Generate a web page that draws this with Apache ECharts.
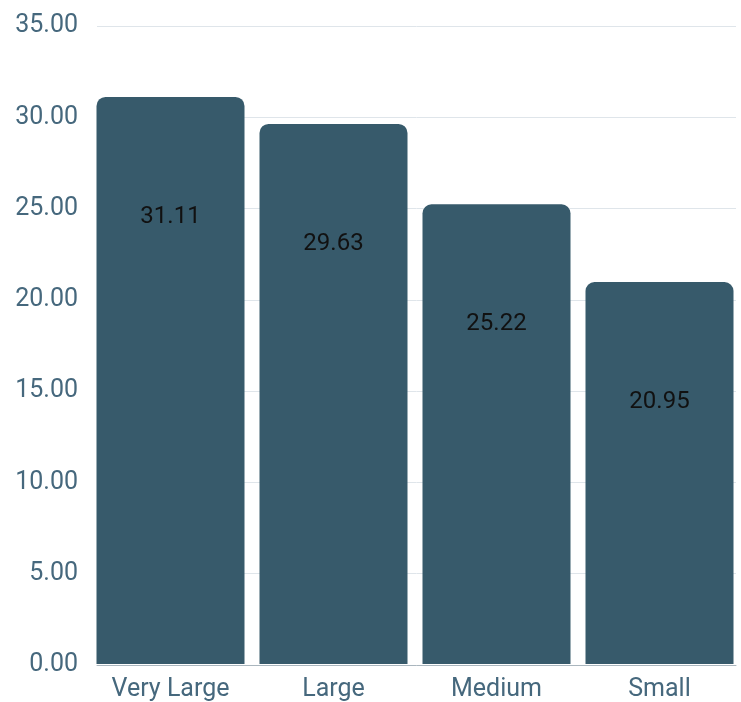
<!DOCTYPE html>
<html>
<head>
<meta charset="utf-8">
<script src="https://cdn.jsdelivr.net/npm/echarts@6/dist/echarts.min.js"></script>
<style>html,body{margin:0;padding:0;background:#fff}#c{width:741px;height:702px}</style>
</head>
<body>
<div id="c"></div>
<script>
const categories = ['Very Large', 'Large', 'Medium', 'Small'];
const values = [31.11, 29.63, 25.22, 20.95];
const yMin = 0, yMax = 35, yInterval = 5;

const FONT = 'Roboto';
const chart = echarts.init(document.getElementById('c'), null, {renderer: 'canvas'});
chart.setOption({
  animation: false,
  backgroundColor: '#ffffff',
  grid: [
    {left: 97, right: 5, top: 26, bottom: 37},
    {left: 89, width: 655, top: 26, bottom: 37}
  ],
  xAxis: [
    {gridIndex: 0, type: 'category', data: categories, boundaryGap: false,
     axisLine: {show: true, lineStyle: {color: '#aab6be', width: 1}},
     axisTick: {show: false}, axisLabel: {show: false}, splitLine: {show: false}},
    {gridIndex: 1, type: 'category', data: categories,
     axisLine: {show: false}, axisTick: {show: false},
     axisLabel: {color: '#46687d', fontFamily: FONT, fontSize: 25, margin: 13}}
  ],
  yAxis: [
    {gridIndex: 0, type: 'value', min: yMin, max: yMax, interval: yInterval,
     axisLine: {show: false}, axisTick: {show: false},
     axisLabel: {color: '#46687d', fontFamily: FONT, fontSize: 25, margin: 19,
                 padding: [4, 0, 0, 0],
                 formatter: v => v.toFixed(2)},
     splitLine: {lineStyle: {color: '#dfe5ea', width: 1}}},
    {gridIndex: 1, type: 'value', min: yMin, max: yMax, interval: yInterval,
     show: false, splitLine: {show: false}}
  ],
  series: [{
    type: 'bar',
    xAxisIndex: 1, yAxisIndex: 1,
    data: values,
    barWidth: 148,
    itemStyle: {color: '#375a6b', borderRadius: [9, 9, 0, 0]},
    label: {show: true, position: 'insideTop', distance: 108,
            color: '#111111', fontFamily: FONT, fontSize: 24,
            formatter: p => p.value.toFixed(2)}
  }]
});
</script>
</body>
</html>
